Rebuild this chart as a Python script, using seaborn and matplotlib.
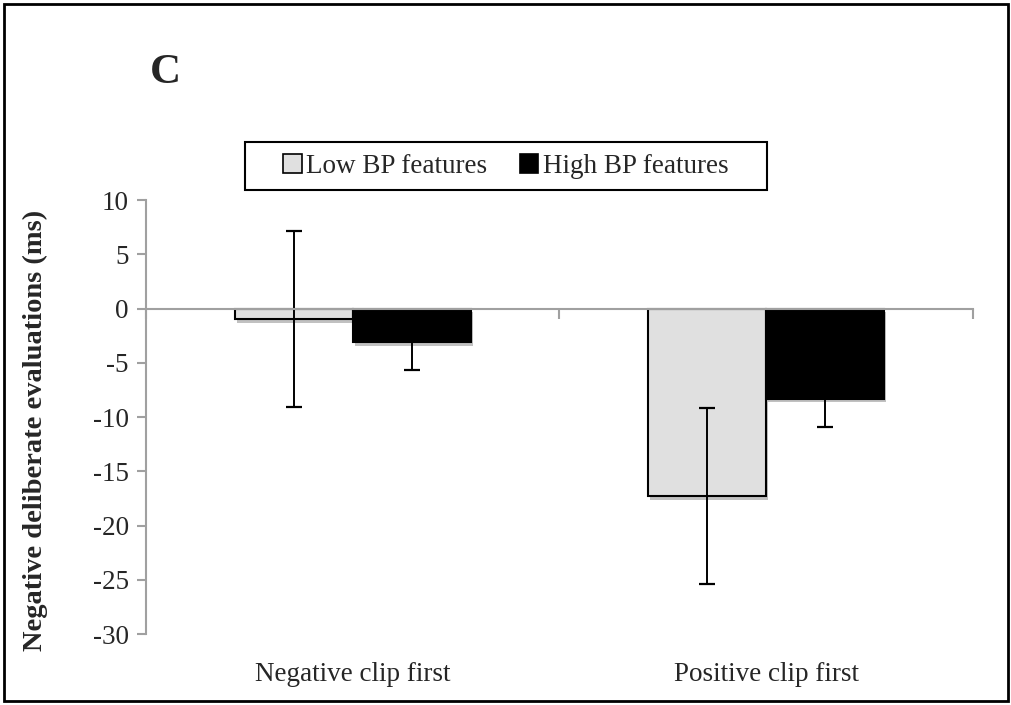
import matplotlib
matplotlib.use("Agg")
import matplotlib.pyplot as plt
import matplotlib.patheffects as pe
import matplotlib.transforms as mtransforms
from matplotlib.patches import Rectangle
import seaborn as sns
import pandas as pd
import numpy as np

# Data
categories = ["Negative clip first", "Positive clip first"]
groups = ["Low BP features", "High BP features"]
low_values = [-1.0, -17.3]
high_values = [-3.1, -8.3]
low_errors = [8.1, 8.1]
high_errors = [2.6, 2.6]
y_ticks = [10, 5, 0, -5, -10, -15, -20, -25, -30]

sns.set_theme(style="white")
plt.rcParams['font.family'] = ['Liberation Serif', 'DejaVu Serif']

FS = 19.5

df = pd.DataFrame({
    "category": categories * 2,
    "group": [groups[0]] * 2 + [groups[1]] * 2,
    "value": low_values + high_values,
})

fig = plt.figure(figsize=(10.11, 7.05), dpi=100)
ax = fig.add_axes([0.1444, 0.1007, 0.818, 0.6156])

sns.barplot(data=df, x="category", y="value", hue="group", order=categories,
            hue_order=groups, palette=["#e0e0e0", "#000000"], edgecolor="black",
            linewidth=1.5, width=0.57, gap=0, errorbar=None, ax=ax, zorder=3)

shadow = [pe.SimplePatchShadow(offset=(1.5, -2.5), shadow_rgbFace="#777777", alpha=0.45), pe.Normal()]
for c in ax.containers:
    for p in c:
        p.set_path_effects(shadow)

errs = [low_errors, high_errors]
means = [low_values, high_values]
for c, e, m in zip(ax.containers, errs, means):
    xs = [p.get_x() + p.get_width() / 2 for p in c]
    ax.errorbar(xs, m, yerr=e, fmt="none", ecolor="black", elinewidth=1.4,
                capsize=5.8, capthick=1.6, zorder=4)

ax.set_ylim(-30, 10)
ax.set_xlim(-0.5, 1.5)
ax.set_yticks(y_ticks)
ax.set_yticklabels([str(t) for t in y_ticks], fontsize=FS)

for s in ["top", "right"]:
    ax.spines[s].set_visible(False)
ax.spines["left"].set_color("#a0a0a0")
ax.spines["left"].set_linewidth(1.5)
ax.spines["bottom"].set_position(("data", 0))
ax.spines["bottom"].set_color("#a0a0a0")
ax.spines["bottom"].set_linewidth(1.5)
ax.spines["bottom"].set_zorder(5)
ax.set_xticks([-0.5, 0.5, 1.5])
ax.set_xticklabels([])
ax.tick_params(axis="x", direction="out", length=7, width=1.5, color="#a0a0a0", bottom=True)
ax.tick_params(axis="y", direction="out", length=6.5, width=1.5, color="#a0a0a0", left=True, pad=6)

trans = mtransforms.blended_transform_factory(ax.transData, ax.transAxes)
for i, cat in enumerate(categories):
    ax.text(i, -0.094, cat, transform=trans, ha="center", va="center", fontsize=FS)

ax.set_xlabel("")
ax.set_ylabel("Negative deliberate evaluations (ms)", fontsize=20.5, fontweight="bold")
ax.yaxis.set_label_coords(-0.118, 0.47)

leg = ax.legend(loc="center", bbox_to_anchor=(0.5, 0.7645), bbox_transform=fig.transFigure,
                ncol=2, fontsize=FS, frameon=False,
                handlelength=0.7, handleheight=0.7, handletextpad=0.15, columnspacing=1.2,
                borderpad=0, borderaxespad=0)
for h in leg.legend_handles:
    h.set_path_effects([])
    h.set_edgecolor("black")
    h.set_linewidth(1.2)

# legend frame box
fig.patches.append(Rectangle((245 / 1011, 1 - 190 / 705), 522 / 1011, 48 / 705,
                             transform=fig.transFigure, fill=False, edgecolor="black",
                             linewidth=1.5, zorder=0))

fig.text(0.148, 0.897, "C", fontsize=31, fontweight="bold", ha="left", va="center")

fig.patches.append(Rectangle((0.004, 0.006), 0.993, 0.988, transform=fig.transFigure,
                             fill=False, edgecolor="black", linewidth=2))

fig.savefig("out.png", dpi=100)
